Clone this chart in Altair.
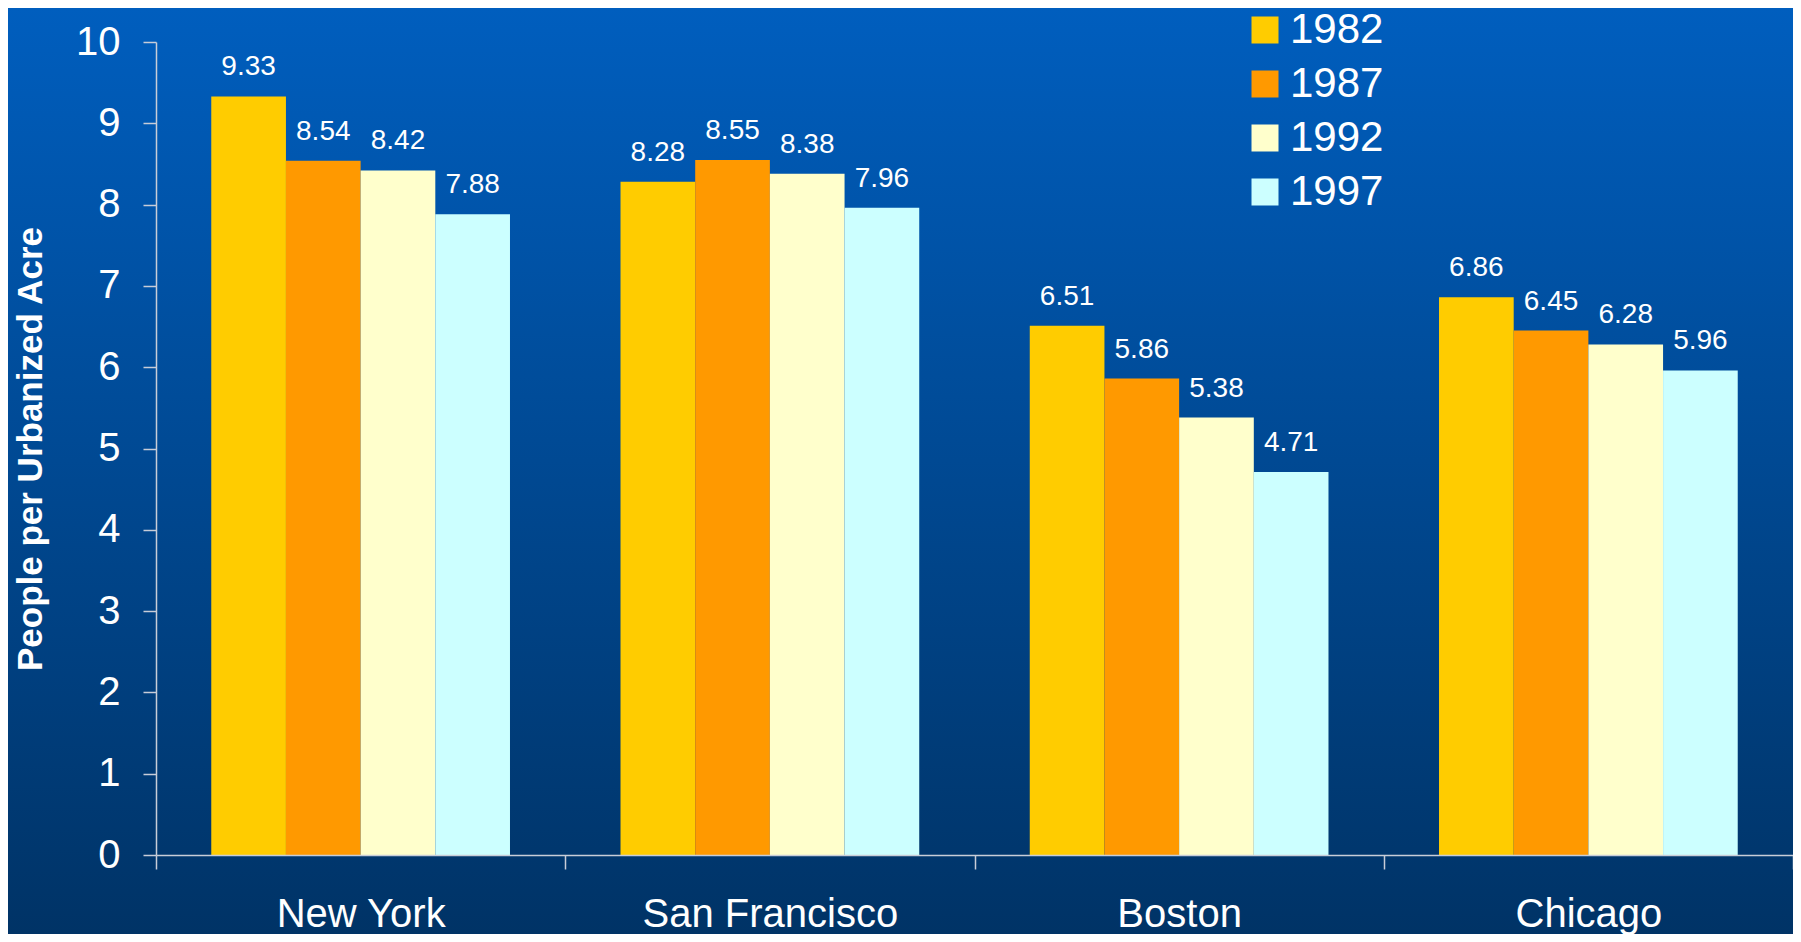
import altair as alt
import pandas as pd

cities = ["New York", "San Francisco", "Boston", "Chicago"]
years = ["1982", "1987", "1992", "1997"]
v1982 = [9.33, 8.28, 6.51, 6.86]
v1987 = [8.54, 8.55, 5.86, 6.45]
v1992 = [8.42, 8.38, 5.38, 6.28]
v1997 = [7.88, 7.96, 4.71, 5.96]
bar_colors = ["#FFCC00", "#FF9900", "#FFFFCC", "#CCFFFF"]
y_ticks = list(range(0, 11))

series = {"1982": v1982, "1987": v1987, "1992": v1992, "1997": v1997}
rows = []
for yr in years:
    for c, v in zip(cities, series[yr]):
        rows.append({"city": c, "year": yr, "value": v})
df = pd.DataFrame(rows)

W, H = 1637, 813
PL, PT, PR, PB = 148, 34, 0, 79

font = "Liberation Sans"
axis_color = "#C8CDD8"

bg = alt.Chart(alt.Data(values=[{}])).mark_rect(
    color=alt.Gradient(
        gradient="linear",
        stops=[alt.GradientStop(color="#005EBE", offset=0),
               alt.GradientStop(color="#003366", offset=1)],
        x1=0, x2=0, y1=0, y2=1,
    )
).encode(
    x=alt.value(-PL), x2=alt.value(W + PR),
    y=alt.value(-PT), y2=alt.value(H + PB),
)

x_enc = alt.X(
    "city:N", sort=cities,
    scale=alt.Scale(paddingInner=0, paddingOuter=0),
    axis=alt.Axis(title=None, labelAngle=0, tickBand="extent", tickSize=14,
                  labelFontSize=40, labelPadding=25, labelColor="white",
                  labelFont=font, labelLimit=0, zindex=2, domainColor=axis_color,
                  tickColor=axis_color, domainWidth=1.5, tickWidth=1.5),
)
xoff = alt.XOffset("year:N", sort=years, scale=alt.Scale(paddingInner=0, paddingOuter=0.74))
y_enc = alt.Y(
    "value:Q",
    scale=alt.Scale(domain=[0, 10], nice=False),
    axis=alt.Axis(values=y_ticks, format="d", title="People per Urbanized Acre",
                  titleFontSize=35, titleFontWeight="bold", titleColor="white",
                  titleFont=font, titleAngle=-90,
                  titleX=-126, titleY=H / 2, titleAlign="center", titleBaseline="middle",
                  tickSize=13, labelFontSize=40, labelPadding=23, labelColor="white",
                  labelFont=font, grid=False, zindex=2, domainColor=axis_color,
                  tickColor=axis_color, domainWidth=1.5, tickWidth=1.5),
)

bars = alt.Chart(df).mark_bar(strokeWidth=0).encode(
    x=x_enc,
    xOffset=xoff,
    y=y_enc,
    color=alt.Color(
        "year:N", sort=years,
        scale=alt.Scale(domain=years, range=bar_colors),
        legend=alt.Legend(title=None, orient="none", legendX=1088, legendY=-33,
                          symbolType="square", symbolSize=729, symbolStrokeWidth=0,
                          symbolOpacity=1, labelFontSize=42, labelColor="white",
                          labelFont=font, labelOffset=4, rowPadding=12, padding=0),
    ),
)

labels = alt.Chart(df).mark_text(
    color="white", fontSize=28, font=font, baseline="alphabetic", dy=-21
).encode(
    x=alt.X("city:N", sort=cities),
    xOffset=alt.XOffset("year:N", sort=years),
    y=alt.Y("value:Q"),
    text=alt.Text("value:Q", format=".2f"),
)

chart = alt.layer(bg, bars, labels).properties(
    width=W, height=H,
    autosize=alt.AutoSizeParams(type="none"),
    padding={"left": PL, "top": PT, "right": PR, "bottom": PB},
    background="#00468C",
).configure_view(stroke=None)

chart.save("out.html", embed_options={"renderer": "svg", "actions": False})
